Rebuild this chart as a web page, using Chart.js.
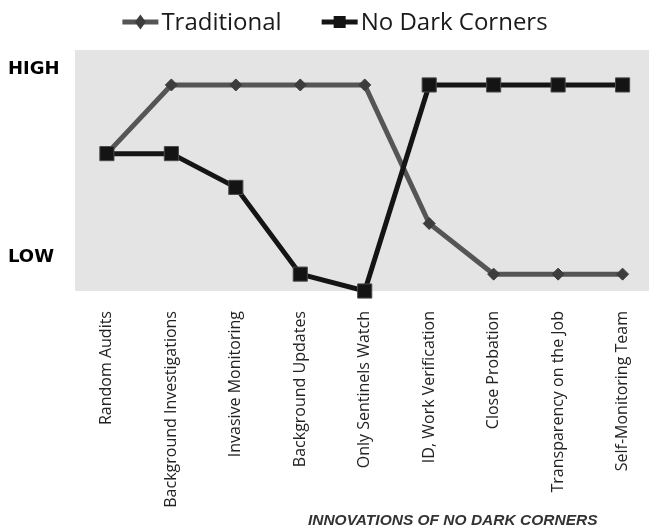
<!DOCTYPE html>
<html>
<head>
<meta charset="utf-8">
<script src="https://cdn.jsdelivr.net/npm/chart.js@4"></script>
<style>
  body { margin: 0; background: #fff; }
</style>
</head>
<body>
<canvas id="innovationChart" width="660" height="529"></canvas>
<script>
// ====== Chart Data ======
const categories = [
  'Random Audits', 'Background Investigations', 'Invasive Monitoring',
  'Background Updates', 'Only Sentinels Watch', 'ID, Work Verification',
  'Close Probation', 'Transparency on the Job', 'Self-Monitoring Team'
];
const traditional = [5.7, 8.55, 8.55, 8.55, 8.55, 2.8, 0.7, 0.7, 0.7];
const noDarkCorners = [5.7, 5.7, 4.3, 0.7, 0, 8.55, 8.55, 8.55, 8.55];
const levelValues = [1.4, 9.2];
const levelLabels = ['LOW', 'HIGH'];
const xTitle = 'INNOVATIONS OF NO DARK CORNERS';

const toPoints = values => values.map((v, i) => ({ x: i, y: v }));

// ====== Plugins ======
const backdrop = {
  id: 'backdrop',
  beforeDraw(chart) {
    const { ctx, chartArea: a } = chart;
    ctx.save();
    ctx.fillStyle = '#e4e4e4';
    ctx.fillRect(a.left, a.top, a.right - a.left, a.bottom - a.top);
    ctx.restore();
  }
};

// legend row with line + marker, and the x axis caption
const captions = {
  id: 'captions',
  afterDraw(chart) {
    const { ctx, chartArea: a } = chart;
    const sets = chart.data.datasets;
    ctx.save();
    ctx.font = '24px "Open Sans"';
    const widths = sets.map(d => 39 + ctx.measureText(d.label).width);
    const total = widths.reduce((s, w) => s + w, 0) + 40 * (sets.length - 1);
    let x = (chart.width - total) / 2 + 5;
    const y = 22;
    sets.forEach((d, i) => {
      ctx.strokeStyle = d.borderColor;
      ctx.lineWidth = 5;
      ctx.beginPath();
      ctx.moveTo(x, y);
      ctx.lineTo(x + 36, y);
      ctx.stroke();
      ctx.fillStyle = d.pointBackgroundColor;
      ctx.beginPath();
      if (d.pointStyle === 'rectRot') {
        ctx.moveTo(x + 18, y - 7.5);
        ctx.lineTo(x + 23.5, y);
        ctx.lineTo(x + 18, y + 7.5);
        ctx.lineTo(x + 12.5, y);
        ctx.closePath();
      } else {
        ctx.rect(x + 12, y - 6, 12, 12);
      }
      ctx.fill();
      ctx.fillStyle = '#1a1a1a';
      ctx.textBaseline = 'alphabetic';
      ctx.fillText(d.label, x + 39, 29.5);
      x += widths[i] + 40;
    });

    ctx.font = 'italic bold 15.5px "Liberation Sans"';
    ctx.fillStyle = '#333';
    ctx.textAlign = 'center';
    ctx.fillText(xTitle, a.left + (a.right - a.left) * 0.658, 525);
    ctx.restore();
  }
};

// ====== Chart ======
const ctx = document.getElementById('innovationChart').getContext('2d');
const innovationChart = new Chart(ctx, {
  type: 'line',
  data: {
    datasets: [{
      label: 'Traditional',
      data: toPoints(traditional),
      borderColor: '#555555',
      borderWidth: 5,
      pointStyle: 'rectRot',
      pointRadius: 6,
      pointBackgroundColor: '#3d3d3d',
      pointBorderColor: '#3d3d3d',
      pointBorderWidth: 1,
      order: 1,
      clip: false
    }, {
      label: 'No Dark Corners',
      data: toPoints(noDarkCorners),
      borderColor: '#141414',
      borderWidth: 5,
      pointStyle: 'rect',
      pointRadius: 10,
      pointBackgroundColor: '#141414',
      pointBorderColor: '#4a4a4a',
      pointBorderWidth: 1,
      order: 0,
      clip: false
    }]
  },
  options: {
    responsive: false,
    animation: false,
    layout: { padding: { top: 50, left: 8, right: 0, bottom: 0 } },
    plugins: {
      legend: { display: false },
      tooltip: { enabled: false }
    },
    scales: {
      x: {
        type: 'linear',
        min: -0.495,
        max: 8.41,
        grid: { display: false, drawTicks: true, tickLength: 20 },
        border: { display: false },
        afterBuildTicks: axis => { axis.ticks = categories.map((c, i) => ({ value: i })); },
        afterFit: axis => { axis.height = 238; },
        ticks: {
          autoSkip: false,
          minRotation: 90,
          maxRotation: 90,
          padding: 0,
          color: '#222',
          font: { family: '"Open Sans"', size: 16 },
          callback: (v, i) => categories[i]
        }
      },
      y: {
        min: 0,
        max: 10,
        grid: { display: false },
        border: { display: false },
        afterBuildTicks: axis => { axis.ticks = levelValues.map(v => ({ value: v })); },
        afterFit: axis => { axis.width = 67; },
        ticks: {
          crossAlign: 'far',
          color: '#000',
          font: { family: '"DejaVu Sans"', size: 18, weight: 'bold' },
          callback: (v, i) => levelLabels[i]
        }
      }
    }
  },
  plugins: [backdrop, captions]
});
</script>
</body>
</html>
